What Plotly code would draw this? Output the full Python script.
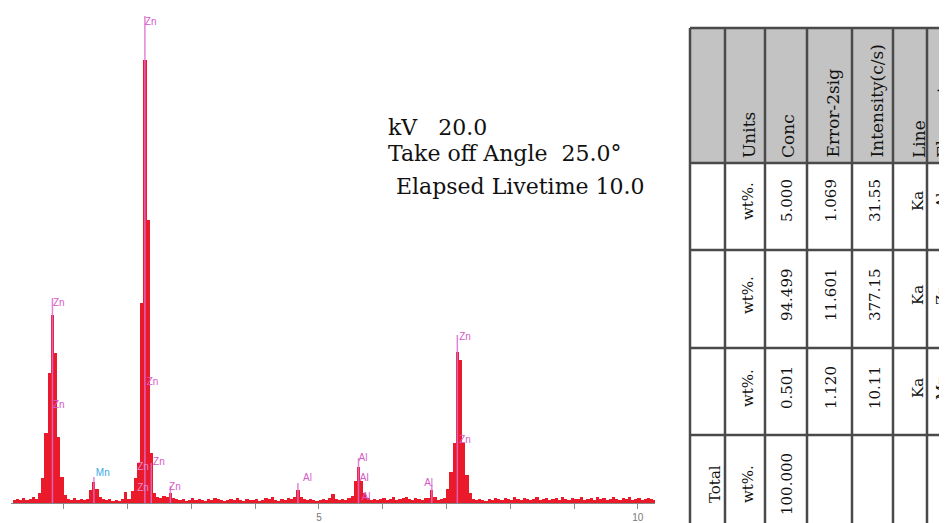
import plotly.graph_objects as go

# ---------------- data ----------------
channel_start_kev = 0.22
channel_width_kev = 0.05
spectrum_counts = [
    3, 4, 3, 5, 3, 4, 6, 4, 10, 25,            # 0.22 - 0.67
    70, 130, 188, 150, 66, 26, 8, 4, 3, 5,      # 0.72 - 1.17
    3, 4, 3, 4, 13, 21, 14, 6, 4, 3,            # 1.22 - 1.67
    4, 2, 3, 2, 4, 11, 4, 12, 25, 40,           # 1.72 - 2.17
    200, 443, 283, 50, 10, 6, 5, 7, 6, 10,      # 2.22 - 2.67
    5, 4, 3, 4, 2, 3, 5, 3, 4, 3,               # 2.72 - 3.17
    2, 4, 3, 5, 4, 3, 2, 3, 4, 3,               # 3.22 - 3.67
    5, 3, 2, 4, 3, 3, 4, 2, 3, 5,               # 3.72 - 4.17
    4, 6, 3, 2, 4, 3, 5, 4, 6, 13,              # 4.22 - 4.67
    6, 4, 3, 4, 3, 2, 3, 4, 3, 5,               # 4.72 - 5.17
    9, 4, 3, 4, 3, 5, 7, 22, 36, 22,            # 5.22 - 5.67
    10, 5, 3, 4, 3, 4, 5, 3, 4, 6,              # 5.72 - 6.17
    3, 4, 5, 6, 4, 3, 5, 4, 3, 5,               # 6.22 - 6.67
    5, 13, 6, 3, 4, 5, 14, 31, 60, 151,         # 6.72 - 7.17
    143, 60, 28, 10, 4, 3, 4, 3, 2, 4,          # 7.22 - 7.67
    3, 5, 4, 3, 5, 4, 3, 6, 4, 3,               # 7.72 - 8.17
    5, 4, 3, 4, 6, 3, 4, 5, 3, 4,               # 8.22 - 8.67
    5, 3, 6, 4, 3, 5, 4, 4, 6, 3,               # 8.72 - 9.17
    4, 5, 3, 6, 4, 5, 3, 4, 6, 4,               # 9.22 - 9.67
    3, 5, 4, 6, 3, 4, 5, 3, 4, 5,               # 9.72 - 10.17
    4, 3,                                       # 10.22 - 10.27
]

tick_values = [1, 2, 3, 4, 5, 6, 7, 8, 9, 10]
tick_labels = ["", "", "", "", "5", "", "", "", "", "10"]

marker_line_energy = [0.82, 1.47, 2.27, 2.37, 2.67, 4.67, 5.62, 6.77, 7.17]
marker_line_top = [205, 26, 487, 40, 17, 20, 45, 18, 168]

label_text = ["Zn", "Zn", "Mn", "Zn", "Zn", "Zn", "Zn", "Zn", "Zn",
              "Al", "Al", "Al", "Al", "Al", "Zn", "Zn"]
label_energy = [0.92, 0.92, 1.61, 2.36, 2.39, 2.49, 2.24, 2.24, 2.74,
                4.82, 5.69, 5.71, 5.74, 6.72, 7.29, 7.29]
label_height = [200, 98, 30, 481, 121, 41, 36, 15, 16,
                25, 45, 25, 6, 20, 166, 63]
label_color = ["#d65ac8", "#d65ac8", "#3aa8e8", "#d65ac8", "#d65ac8", "#d65ac8",
               "#e58ad8", "#e58ad8", "#d65ac8", "#d65ac8", "#d65ac8", "#d65ac8",
               "#d65ac8", "#d65ac8", "#d65ac8", "#d65ac8"]

info_lines = ["kV\u00a0\u00a0 20.0",
              "Take off Angle\u00a0 25.0°",
              "\u00a0Elapsed Livetime 10.0"]

table_headers = ["", "Units", "Conc", "Error-2sig", "Intensity(c/s)", "Line", "Element"]
row_al = ["", "wt%.", "5.000", "1.069", "31.55", "Ka", "Al"]
row_zn = ["", "wt%.", "94.499", "11.601", "377.15", "Ka", "Zn"]
row_mn = ["", "wt%.", "0.501", "1.120", "10.11", "Ka", "Mn"]
row_total = ["Total", "wt%.", "100.000", "", "", "", ""]

# ---------------- figure ----------------
# the page puts the figure 8 px in from the top-left corner of the window
OFF = 8
W, H = 947 - OFF, 523 - OFF


def fx(p):
    return (p - OFF) / W


def fy(p):
    return 1 - (p - OFF) / H


energies = [round(channel_start_kev + i * channel_width_kev, 3) for i in range(len(spectrum_counts))]

fig = go.Figure()
fig.add_trace(go.Bar(x=energies, y=spectrum_counts, width=channel_width_kev,
                     marker=dict(color="#ea1a2a", line=dict(width=0)),
                     hoverinfo="x+y"))

lx, ly = [], []
for e, t in zip(marker_line_energy, marker_line_top):
    lx += [e, e, None]
    ly += [0, t, None]
fig.add_trace(go.Scatter(x=lx, y=ly, mode="lines",
                         line=dict(color="rgba(220,110,210,0.85)", width=1.5),
                         hoverinfo="skip"))

fig.add_trace(go.Scatter(x=label_energy, y=label_height, mode="text", text=label_text,
                         textposition="middle center",
                         textfont=dict(family="Liberation Sans, Arial", size=10, color=label_color),
                         hoverinfo="skip"))

annotations = []
# info text
info_y = [127, 154, 186]
info_x = [386, 386, 387]
for t, xx, yy in zip(info_lines, info_x, info_y):
    annotations.append(dict(x=fx(xx), y=fy(yy), xref="paper", yref="paper", text=t,
                            showarrow=False, xanchor="left", yanchor="middle",
                            font=dict(family="DejaVu Serif", size=22, color="#111")))

# table
col_edges = [690, 725, 765, 807, 852, 893, 927, 975]
row_edges = [28, 163, 250, 348, 435, 540]
col_text_x = [715, 748, 787, 831, 875, 918, 942]
row_text_y = [None, 201, 295, 388, 484]
shapes = []
shapes.append(dict(type="rect", xref="paper", yref="paper",
                   x0=fx(col_edges[0]), x1=fx(960), y0=fy(row_edges[0]), y1=fy(row_edges[1]),
                   fillcolor="#c3c3c3", line=dict(width=0), layer="below"))
for c in col_edges[:-1]:
    shapes.append(dict(type="line", xref="paper", yref="paper",
                       x0=fx(c), x1=fx(c), y0=fy(row_edges[0]), y1=fy(540),
                       line=dict(color="#4a4a4a", width=2.5)))
for r in row_edges[:-1]:
    shapes.append(dict(type="line", xref="paper", yref="paper",
                       x0=fx(col_edges[0]), x1=fx(960), y0=fy(r), y1=fy(r),
                       line=dict(color="#4a4a4a", width=2.5)))

hfont = dict(family="DejaVu Serif", size=17, color="#111")
vfont = dict(family="DejaVu Serif", size=15, color="#111")
for i, h in enumerate(table_headers):
    if h:
        annotations.append(dict(x=fx(col_text_x[i] + 1), y=fy(row_edges[1] - 3), xref="paper", yref="paper",
                                text=h, textangle=-90, showarrow=False,
                                xanchor="center", yanchor="bottom", font=hfont))
for ri, row in enumerate([row_al, row_zn, row_mn, row_total], start=1):
    for i, v in enumerate(row):
        if v:
            annotations.append(dict(x=fx(col_text_x[i]), y=fy(row_text_y[ri]), xref="paper", yref="paper",
                                    text=v, textangle=-90, showarrow=False,
                                    xanchor="center", yanchor="middle", font=vfont))

fig.update_layout(
    width=W, height=H,
    margin=dict(l=0, r=0, t=0, b=0),
    paper_bgcolor="white", plot_bgcolor="white",
    showlegend=False, bargap=0,
    xaxis=dict(domain=[fx(11), fx(655)], range=[0.17, 10.27],
               showgrid=False, zeroline=False, showline=True, linecolor="#8a8a8a", linewidth=1,
               ticks="outside", ticklen=5, tickwidth=1, tickcolor="#8a8a8a",
               tickvals=tick_values, ticktext=tick_labels,
               tickfont=dict(family="Liberation Sans, Arial", size=10, color="#777")),
    yaxis=dict(domain=[fy(503), 1], range=[0, 503 - OFF], visible=False),
    shapes=shapes,
    annotations=annotations,
)

fig.write_html("out.html")
